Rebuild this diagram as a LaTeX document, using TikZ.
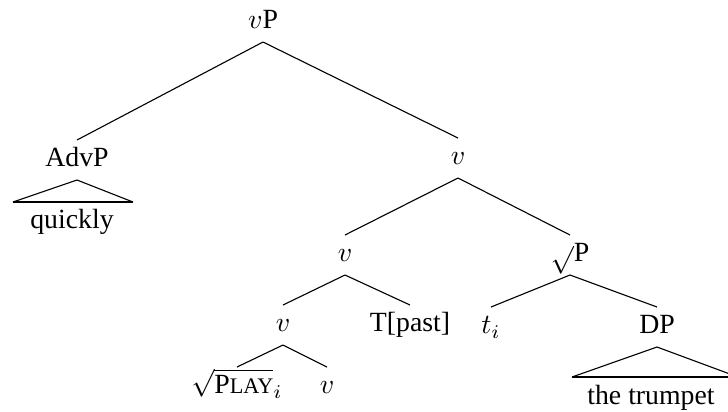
\documentclass[tikz,border=0pt]{standalone}
\usepackage{fontspec}
\setmainfont{Liberation Serif}
\usetikzlibrary{positioning}
\tikzset{
  lbl/.style={inner sep=0pt, text height=6.5pt, text depth=1.5pt, minimum height=14pt, anchor=center},
  br/.style={line width=0.4pt},
  roofbase/.style={line width=1pt},
}

\begin{document}
\begin{tikzpicture}[x=0.36pt, y=-0.36pt]
  \useasboundingbox (0,0) rectangle (728,411);
  % labels
  \node[lbl] (vp) at (263,22) {$v$P};
  \node[lbl] (advp) at (77,160) {AdvP};
  \node[lbl] (v1) at (458,158) {$v$};
  \node[lbl] (v2) at (345,255) {$v$};
  \node[lbl] (rp) at (570,255) {$\sqrt{}$P};
  \node[lbl] (v3) at (283,325) {$v$};
  \node[lbl] (tpast) at (410,325) {T[past]};
  \node[lbl] (ti) at (491,327) {$t_i$};
  \node[lbl] (dp) at (657,327) {DP};
  \node[lbl] (play) at (237,387) {$\sqrt{\mbox{P\footnotesize LAY}}_i$};
  \node[lbl] (v4) at (327,387) {$v$};
  \node[lbl] (quickly) at (72,222) {quickly};
  \node[lbl] (trumpet) at (651,398) {the trumpet};
  % branches
  \draw[br] (vp.south) -- (advp.north); \draw[br] (vp.south) -- (v1.north);
  \draw[br] (v1.south) -- (v2.north); \draw[br] (v1.south) -- (rp.north);
  \draw[br] (v2.south) -- (v3.north); \draw[br] (v2.south) -- (tpast.north);
  \draw[br] (v3.south) -- (play.north); \draw[br] (v3.south) -- (v4.north);
  \draw[br] (rp.south) -- (ti.north); \draw[br] (rp.south) -- (dp.north);
  % roofs
  \coordinate (advl) at (13,202);
  \coordinate (advr) at (133,202);
  \draw[br] (advl) -- (advp.south) -- (advr);
  \draw[roofbase] (advl) -- (advr);
  \coordinate (dpl) at (572,377);
  \coordinate (dpr) at (738,377);
  \draw[br] (dpl) -- (dp.south) -- (dpr);
  \draw[roofbase] (dpl) -- (dpr);
\end{tikzpicture}
\end{document}
